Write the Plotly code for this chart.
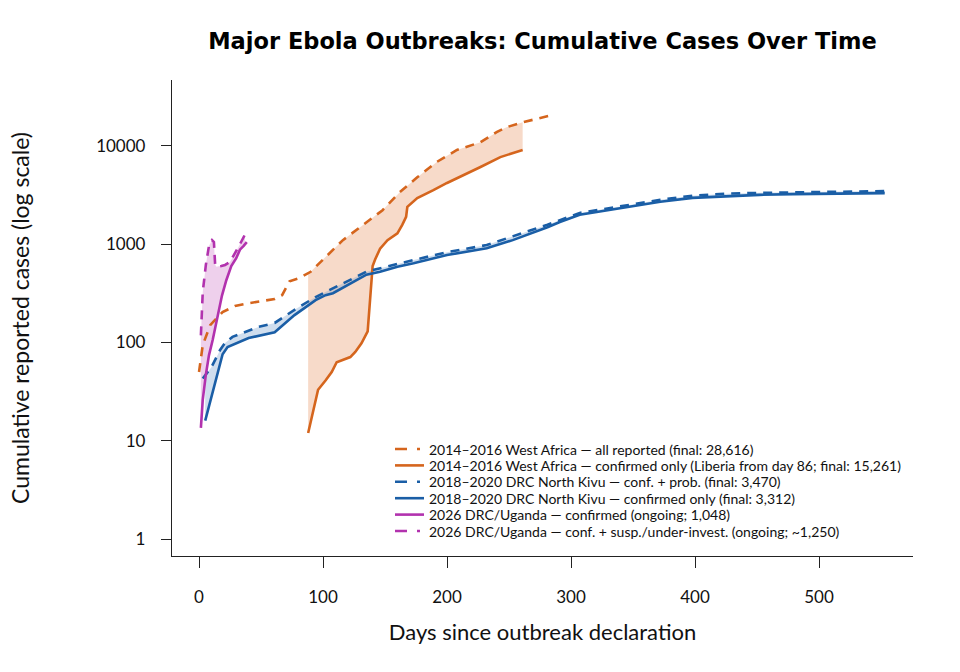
import numpy as np
import plotly.graph_objects as go

# ---- data ----
wa_all_days = [0, 3, 9, 19, 29, 41, 61, 67, 73, 81, 90, 102, 116, 132, 148, 162, 176, 192, 208, 227, 240, 248, 261, 284]
wa_all_cases = [50, 94, 150, 204, 235, 252, 277, 303, 420, 453, 524, 742, 1100, 1560, 2220, 3390, 4800, 6900, 9100, 10900, 13800, 15500, 17400, 20500]

wa_conf_days = [88, 93, 96, 102, 107, 111, 115, 122, 126, 131, 136, 138, 140, 142, 146, 152, 160, 164, 167, 168, 176, 189, 200, 227, 243, 261]
wa_conf_cases = [12, 22, 33, 41, 50, 63, 66, 71, 80, 98, 130, 300, 600, 700, 900, 1100, 1290, 1580, 1900, 2400, 2950, 3550, 4200, 6100, 7700, 9100]

drc_all_days = [3, 10, 17, 21, 27, 48, 61, 77, 94, 108, 135, 160, 200, 232, 253, 281, 307, 345, 372, 398, 426, 452, 506, 553]
drc_all_cases = [43, 56, 84, 99, 114, 144, 158, 215, 290, 357, 525, 630, 830, 980, 1200, 1580, 2080, 2480, 2830, 3120, 3270, 3330, 3420, 3470]

drc_conf_days = [5, 19, 23, 40, 61, 77, 94, 102, 108, 135, 146, 160, 173, 200, 232, 253, 281, 291, 307, 318, 345, 372, 398, 426, 452, 479, 506, 533, 553]
drc_conf_cases = [16, 76, 90, 111, 127, 190, 270, 303, 317, 490, 523, 590, 640, 775, 910, 1100, 1490, 1680, 1990, 2090, 2390, 2700, 2960, 3100, 3180, 3230, 3270, 3295, 3312]

ug_conf_days = [1.5, 3, 5.5, 8, 11, 13.5, 16, 18.5, 22, 26, 30, 33, 36, 38.5]
ug_conf_cases = [13.5, 26, 47, 74, 106, 150, 214, 300, 430, 600, 720, 880, 960, 1048]

ug_all_days = [1.5, 3, 5.5, 8, 10.5, 12, 13, 14, 18, 21, 25, 29, 33, 37]
ug_all_cases = [118, 325, 615, 960, 1100, 1050, 620, 590, 600, 615, 660, 800, 1000, 1250]

y_tick_vals = [1, 10, 100, 1000, 10000]
y_tick_text = ["1", "10", "100", "1000", "10000"]
x_tick_vals = [0, 100, 200, 300, 400, 500]

names = [
    "2014\u20132016 West Africa \u2014 all reported (final: 28,616)",
    "2014\u20132016 West Africa \u2014 confirmed only (Liberia from day 86; final: 15,261)",
    "2018\u20132020 DRC North Kivu \u2014 conf. + prob. (final: 3,470)",
    "2018\u20132020 DRC North Kivu \u2014 confirmed only (final: 3,312)",
    "2026 DRC/Uganda \u2014 confirmed (ongoing; 1,048)",
    "2026 DRC/Uganda \u2014 conf. + susp./under-invest. (ongoing; ~1,250)",
]

ORANGE = "#D5651D"
BLUE = "#1A5EA6"
MAGENTA = "#B232AE"


def band(xu, yu, xl, yl):
    lo = max(min(xu), min(xl))
    hi = min(max(xu), max(xl))
    xs = sorted(set([v for v in list(xu) + list(xl) if lo <= v <= hi]))
    up = 10 ** np.interp(xs, xu, np.log10(yu))
    dn = 10 ** np.interp(xs, xl, np.log10(yl))
    return xs + xs[::-1], list(up) + list(dn[::-1])


fig = go.Figure()

bands = [
    (wa_all_days, wa_all_cases, wa_conf_days, wa_conf_cases, "rgba(232,150,100,0.35)"),
    (drc_all_days, drc_all_cases, drc_conf_days, drc_conf_cases, "rgba(120,160,205,0.35)"),
    (ug_all_days, ug_all_cases, ug_conf_days, ug_conf_cases, "rgba(205,120,200,0.35)"),
]
for xu, yu, xl, yl, col in bands:
    bx, by = band(xu, yu, xl, yl)
    fig.add_trace(go.Scatter(x=bx, y=by, fill="toself", fillcolor=col, mode="none",
                             showlegend=False, hoverinfo="skip"))

W = 2.6
DASH = "9px,7px"
series = [
    (wa_all_days, wa_all_cases, ORANGE, DASH, names[0]),
    (wa_conf_days, wa_conf_cases, ORANGE, "solid", names[1]),
    (drc_all_days, drc_all_cases, BLUE, DASH, names[2]),
    (drc_conf_days, drc_conf_cases, BLUE, "solid", names[3]),
    (ug_conf_days, ug_conf_cases, MAGENTA, "solid", names[4]),
    (ug_all_days, ug_all_cases, MAGENTA, DASH, names[5]),
]
for x, y, c, d, n in series:
    fig.add_trace(go.Scatter(x=x, y=y, mode="lines", name=n, showlegend=False,
                             line=dict(color=c, width=W, dash=d)))

FONT = "Lato, 'Open Sans', sans-serif"

# ---- legend (keys + labels drawn in paper space, compact like the reference) ----
PL, PR, PT, PB = 172, 913, 80, 556
def px_x(v):
    return (v - PL) / (PR - PL)
def px_y(v):
    return (PB - v) / (PB - PT)

row_y0, row_dy = 449, 16.4
for i, (x, y, c, d, n) in enumerate(series):
    yy = px_y(row_y0 + i * row_dy)
    key_dash = "solid" if d == "solid" else "12px,10px,3px,20px"
    fig.add_shape(type="line", xref="paper", yref="paper",
                  x0=px_x(395), x1=px_x(424), y0=yy, y1=yy,
                  line=dict(color=c, width=W, dash=key_dash))
    fig.add_annotation(xref="paper", yref="paper", x=px_x(427), y=yy,
                       xanchor="left", yanchor="middle", showarrow=False,
                       text=n, font=dict(size=14, family=FONT, color="#111111"))

fig.update_layout(
    width=960, height=672,
    margin=dict(l=PL, r=960 - PR, t=PT, b=672 - PB),
    paper_bgcolor="white", plot_bgcolor="white",
    font=dict(family=FONT, color="#111111", size=16),
    title=dict(text="<b>Major Ebola Outbreaks: Cumulative Cases Over Time</b>",
               x=0.5, xref="paper", xanchor="center",
               y=1 - 41 / 672, yref="container", yanchor="middle",
               font=dict(size=22.5, family="'DejaVu Sans', sans-serif", color="#000000")),
    showlegend=False,
)
fig.update_xaxes(
    range=[-21.8, 575.8], tickvals=x_tick_vals,
    showline=True, linecolor="#222222", linewidth=1.3,
    ticks="outside", ticklen=11, tickwidth=1.3, tickcolor="#222222",
    showgrid=False, zeroline=False, ticklabelstandoff=14,
    tickfont=dict(size=17),
    title=dict(text="Days since outbreak declaration", font=dict(size=22), standoff=19),
)
fig.update_yaxes(
    type="log", range=[-0.173, 4.671], tickvals=y_tick_vals, ticktext=y_tick_text,
    showline=True, linecolor="#222222", linewidth=1.3,
    ticks="outside", ticklen=10, tickwidth=1.3, tickcolor="#222222",
    showgrid=False, zeroline=False, ticklabelstandoff=12,
    tickfont=dict(size=17),
    title=dict(text="Cumulative reported cases (log scale)", font=dict(size=23), standoff=60),
)

fig.write_html("out.html")
